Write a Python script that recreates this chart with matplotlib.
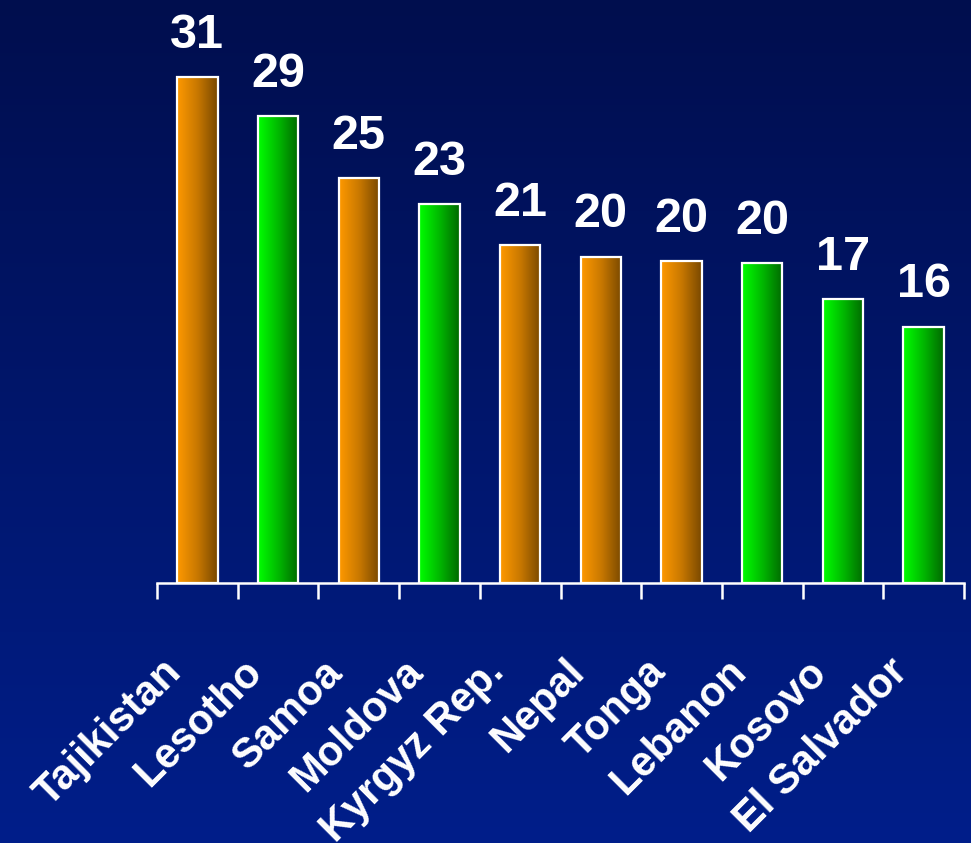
import numpy as np
import matplotlib
matplotlib.use("Agg")
import matplotlib.pyplot as plt
from matplotlib.colors import LinearSegmentedColormap

# Data
countries = ["Tajikistan", "Lesotho", "Samoa", "Moldova", "Kyrgyz Rep.",
             "Nepal", "Tonga", "Lebanon", "Kosovo", "El Salvador"]
values = [31.0, 28.6, 24.8, 23.2, 20.7, 20.0, 19.7, 19.6, 17.4, 15.7]
groups = ["orange", "green", "orange", "green", "orange",
          "orange", "orange", "green", "green", "green"]

plt.rcParams["font.family"] = ["Liberation Sans", "DejaVu Sans"]

W, H, DPI = 971, 843, 100
fig = plt.figure(figsize=(W / DPI, H / DPI), dpi=DPI)

# Vertical navy background gradient
bg = fig.add_axes([0, 0, 1, 1], zorder=-10)
top_c = np.array([0, 14, 78]) / 255
bot_c = np.array([0, 30, 138]) / 255
t = np.linspace(0, 1, 256)[:, None]
grad = top_c[None, :] * (1 - t) + bot_c[None, :] * t
bg.imshow(grad[:, None, :].repeat(2, axis=1), aspect="auto", extent=[0, 1, 0, 1])
bg.set_axis_off()

ax = fig.add_axes([157 / W, 1 - 582.7 / H, (964 - 157) / W, 582.7 / H])
ax.patch.set_alpha(0)

ymax = 582.7 / 16.31
ax.set_xlim(-0.5, len(countries) - 0.5)
ax.set_ylim(0, ymax)

cmaps = {
    "orange": LinearSegmentedColormap.from_list("o", ["#ff9900", "#c87800", "#784800"]),
    "green": LinearSegmentedColormap.from_list("g", ["#00ff00", "#00b800", "#006800"]),
}

x = np.arange(len(countries))
bars = ax.bar(x, values, width=0.5, color="none", edgecolor="white",
              linewidth=1.6, zorder=3)
hgrad = np.linspace(0, 1, 256)[None, :]
for b, g in zip(bars, groups):
    x0, y0 = b.get_x(), b.get_y()
    im = ax.imshow(hgrad, cmap=cmaps[g], aspect="auto",
                   extent=[x0, x0 + b.get_width(), y0, y0 + b.get_height()],
                   zorder=2, interpolation="bilinear")
    im.set_clip_path(b)

ax.set_xlim(-0.5, len(countries) - 0.5)
ax.set_ylim(0, ymax)

# Value labels
for xi, v in zip(x, values):
    ax.annotate(f"{v:.0f}", xy=(xi, v), xytext=(0, 21), textcoords="offset points",
                ha="center", va="baseline", color="white", fontsize=35,
                fontweight="bold")

# Category labels, rotated
for xi, c in zip(x, countries):
    ax.annotate(c, xy=(xi, 0), xytext=(-16, -60), textcoords="offset points",
                ha="right", va="center", rotation=45, rotation_mode="anchor",
                color="white", fontsize=30, fontweight="bold",
                annotation_clip=False)

# Axis: baseline with ticks at category boundaries
for s in ["top", "right", "left"]:
    ax.spines[s].set_visible(False)
ax.spines["bottom"].set_color("white")
ax.spines["bottom"].set_linewidth(1.8)
ax.set_yticks([])
ax.set_xticks([])
ax.set_xticks(np.arange(-0.5, len(countries) + 0.5, 1.0), minor=True)
ax.tick_params(axis="x", which="minor", direction="out", length=11.5,
               width=1.8, color="white", labelbottom=False)

fig.savefig("out.png", dpi=DPI)
